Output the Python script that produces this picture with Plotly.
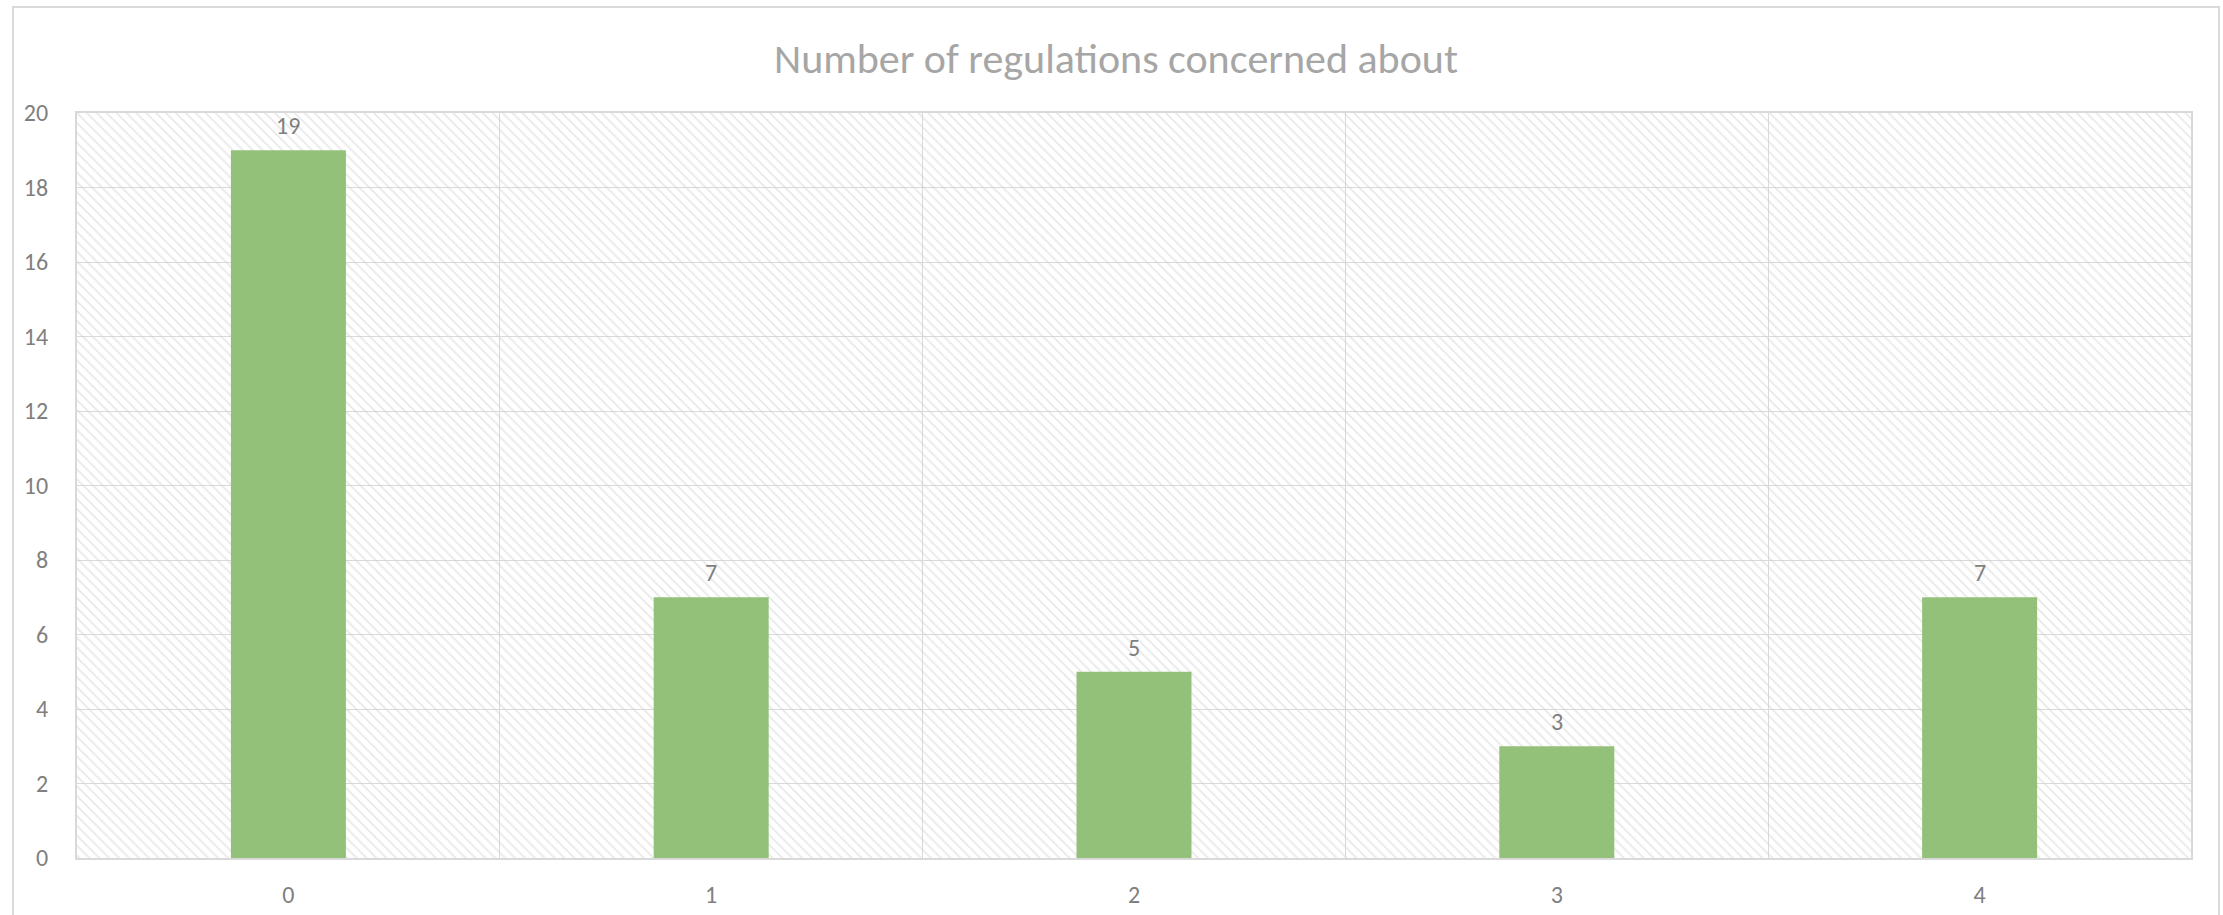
import plotly.graph_objects as go

categories = [0, 1, 2, 3, 4]
values = [19, 7, 5, 3, 7]
y_ticks = list(range(0, 21, 2))
title_text = "Number of regulations concerned about"

W, H = 2223, 915
FONT = "Calibri, Carlito, Lato, sans-serif"
GRID = "#d9d9d9"
BAR = "#93c17a"
TXT = "#7f7f7f"

y_max = max(y_ticks)

fig = go.Figure()

# hatched plot-area background
fig.add_trace(go.Bar(
    x=[sum(categories) / len(categories)],
    y=[y_max],
    width=[len(categories)],
    marker=dict(color="rgba(0,0,0,0)", line=dict(width=0),
                pattern=dict(shape="\\", fgcolor="#d2d2d2", bgcolor="rgba(0,0,0,0)",
                             size=7, solidity=0.25, fillmode="overlay")),
    hoverinfo="skip", showlegend=False,
))

fig.add_trace(go.Bar(
    x=categories, y=values, width=0.272,
    marker=dict(color=BAR, line=dict(width=0)),
    showlegend=False,
))

for c, v in zip(categories, values):
    fig.add_annotation(x=c, y=v, text=str(v), showarrow=False, yanchor="bottom",
                       yshift=8, font=dict(family=FONT, size=24, color=TXT))

fig.update_layout(
    width=W, height=H,
    margin=dict(l=77, r=32, t=113, b=57, autoexpand=False),
    paper_bgcolor="white", plot_bgcolor="white",
    barmode="overlay",
    title=dict(text=title_text, x=1116 / W, xanchor="center", xref="container",
               y=1 - 58 / H, yanchor="middle",
               font=dict(family=FONT, size=42, color="#a6a6a6")),
    font=dict(family=FONT, size=24, color=TXT),
    showlegend=False,
)

fig.update_xaxes(
    range=[min(categories) - 0.5, max(categories) + 0.5],
    tickmode="array", tickvals=categories, ticktext=[str(c) for c in categories],
    showgrid=False, showline=True, linecolor=GRID, linewidth=2, mirror=True,
    ticks="", ticklabelstandoff=14, zeroline=False, automargin=False,
    tickfont=dict(family=FONT, size=24, color=TXT),
    minor=dict(tick0=0.5, dtick=1, showgrid=True, gridcolor=GRID, gridwidth=1, ticks=""),
)
fig.update_yaxes(
    range=[0, y_max], tickmode="array", tickvals=y_ticks,
    ticktext=[str(t) for t in y_ticks],
    showgrid=True, gridcolor=GRID, gridwidth=1,
    showline=True, linecolor=GRID, linewidth=2, mirror=True,
    ticks="", ticklabelstandoff=22, zeroline=False, automargin=False,
    tickfont=dict(family=FONT, size=24, color=TXT),
)

# outer chart border
fig.add_shape(type="rect", xref="paper", yref="paper",
              x0=(13 - 77) / (W - 77 - 32), x1=(2219 - 77) / (W - 77 - 32),
              y0=-0.2, y1=(H - 113 - 57 + 113 - 7) / (H - 113 - 57),
              line=dict(color="#d9d9d9", width=2), fillcolor="rgba(0,0,0,0)", layer="below")

fig.write_html("out.html")
